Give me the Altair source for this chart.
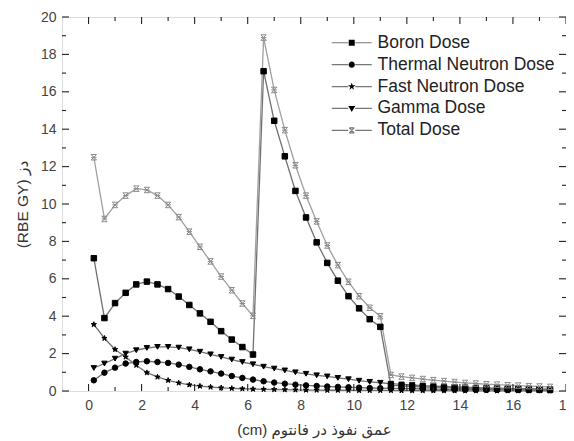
import altair as alt
import pandas as pd

depth = [0.2, 0.6, 1.0, 1.4, 1.8, 2.2, 2.6, 3.0, 3.4, 3.8, 4.2, 4.6, 5.0, 5.4, 5.8, 6.2,
         6.6, 7.0, 7.4, 7.8, 8.2, 8.6, 9.0, 9.4, 9.8, 10.2, 10.6, 11.0,
         11.4, 11.8, 12.2, 12.6, 13.0, 13.4, 13.8, 14.2, 14.6, 15.0, 15.4, 15.8, 16.2, 16.6, 17.0, 17.4]

boron = [7.1, 3.9, 4.7, 5.25, 5.7, 5.85, 5.7, 5.45, 5.05, 4.6, 4.15, 3.7, 3.2, 2.75, 2.35, 1.95,
         17.1, 14.45, 12.55, 10.7, 9.28, 7.95, 6.85, 5.9, 5.07, 4.42, 3.84, 3.43,
         0.3, 0.27, 0.24, 0.22, 0.2, 0.18, 0.16, 0.14, 0.13, 0.12, 0.11, 0.1, 0.09, 0.08, 0.07, 0.06]

thermal = [0.57, 0.98, 1.25, 1.47, 1.55, 1.59, 1.55, 1.5, 1.41, 1.29, 1.16, 1.05, 0.93, 0.8, 0.7, 0.61,
           0.52, 0.45, 0.39, 0.34, 0.3, 0.27, 0.24, 0.22, 0.2, 0.18, 0.16, 0.15,
           0.14, 0.13, 0.12, 0.11, 0.1, 0.09, 0.09, 0.08, 0.08, 0.07, 0.07, 0.06, 0.06, 0.05, 0.05, 0.05]

fast = [3.56, 2.82, 2.22, 1.82, 1.38, 0.98, 0.75, 0.57, 0.43, 0.33, 0.26, 0.21, 0.17, 0.14, 0.12, 0.1,
        0.09, 0.08, 0.07, 0.06, 0.05, 0.05, 0.04, 0.04, 0.04, 0.03, 0.03, 0.03,
        0.03, 0.02, 0.02, 0.02, 0.02, 0.02, 0.01, 0.01, 0.01, 0.01, 0.01, 0.01, 0.01, 0.01, 0.01, 0.01]

gamma = [1.23, 1.47, 1.73, 2.0, 2.18, 2.3, 2.36, 2.36, 2.32, 2.23, 2.1, 1.96, 1.82, 1.68, 1.55, 1.43,
         1.3, 1.2, 1.1, 1.0, 0.92, 0.84, 0.78, 0.7, 0.63, 0.55, 0.49, 0.44,
         0.39, 0.35, 0.32, 0.29, 0.26, 0.24, 0.22, 0.2, 0.18, 0.16, 0.15, 0.14, 0.13, 0.12, 0.11, 0.1]

total = [12.5, 9.2, 9.95, 10.45, 10.82, 10.75, 10.45, 9.95, 9.3, 8.52, 7.71, 6.93, 6.12, 5.39, 4.68, 4.02,
         18.9, 16.1, 13.95, 12.07, 10.45, 9.07, 7.78, 6.73, 5.84, 5.07, 4.45, 4.0,
         0.86, 0.77, 0.7, 0.64, 0.58, 0.53, 0.48, 0.43, 0.4, 0.36, 0.34, 0.31, 0.29, 0.26, 0.24, 0.22]

series_names = ["Boron Dose", "Thermal Neutron Dose", "Fast Neutron Dose", "Gamma Dose", "Total Dose"]
series_values = [boron, thermal, fast, gamma, total]

x_major = [0, 2, 4, 6, 8, 10, 12, 14, 16, 18]
x_minor = [1, 3, 5, 7, 9, 11, 13, 15, 17]
y_major = [0, 2, 4, 6, 8, 10, 12, 14, 16, 18, 20]
y_minor = [1, 3, 5, 7, 9, 11, 13, 15, 17, 19]

rows = []
for name, vals in zip(series_names, series_values):
    for xv, yv in zip(depth, vals):
        rows.append({"x": xv, "y": yv, "series": name})
df = pd.DataFrame(rows)

W, H = 504, 374
FONT = "Liberation Sans, DejaVu Sans, sans-serif"

STAR = "M0,-1L0.2245,-0.309L0.951,-0.309L0.363,0.118L0.588,0.809L0,0.382L-0.588,0.809L-0.363,0.118L-0.951,-0.309L-0.2245,-0.309Z"
ASTER = "M-1,-1L1,1M-1,1L1,-1M-1,-1H1M-1,1H1M-1,0H1"
plot_shapes = ["square", "circle", STAR, "triangle-down", ASTER]

LINE = "M-4,0H-0.7M0.7,0H4"
leg_line_shapes = [LINE, LINE, LINE, LINE,
                   LINE + "M-0.5,-0.5L0.5,0.5M-0.5,0.5L0.5,-0.5M-0.5,-0.5H0.5M-0.5,0.5H0.5"]
leg_marker_shapes = [
    "M-0.6,-0.6H0.6V0.6H-0.6Z",
    "M-0.62,0A0.62,0.62,0,1,0,0.62,0A0.62,0.62,0,1,0,-0.62,0Z",
    "M0,-0.8L0.18,-0.25L0.76,-0.25L0.29,0.09L0.47,0.65L0,0.31L-0.47,0.65L-0.29,0.09L-0.76,-0.25L-0.18,-0.25Z",
    "M-0.7,-0.5H0.7L0,0.7Z",
    "M0,0Z",
]

xscale = alt.Scale(domain=[-1, 18], nice=False, zero=False)
yscale = alt.Scale(domain=[0, 20], nice=False)
xaxis = alt.Axis(values=x_major, title="(cm) عمق نفوذ در فانتوم", domain=False, ticks=False, grid=False,
                 labelFontSize=14, labelColor="#444", labelPadding=7, labelFont=FONT, labelFlush=False,
                 titleFont=FONT, titleFontSize=15, titleFontWeight="normal", titleColor="#333", titlePadding=10)
yaxis = alt.Axis(values=y_major, title="(RBE GY) دز", domain=False, ticks=False, grid=False,
                 labelFontSize=14, labelColor="#444", labelPadding=6, labelFont=FONT, labelFlush=False,
                 titleFont=FONT, titleFontSize=15.5, titleFontWeight="normal", titleColor="#333", titlePadding=10)
X = alt.X("x:Q", scale=xscale, axis=xaxis)
Y = alt.Y("y:Q", scale=yscale, axis=yaxis)

lines = alt.Chart(df).mark_line(strokeWidth=1.3).encode(
    x=X, y=Y, detail="series:N",
    color=alt.Color("series:N", scale=alt.Scale(domain=series_names,
                    range=["#707070", "#707070", "#707070", "#707070", "#a0a0a0"]), legend=None),
)

points = alt.Chart(df).mark_point(filled=True, opacity=1, strokeWidth=1, size=30).encode(
    x=X, y=Y,
    shape=alt.Shape("series:N", scale=alt.Scale(domain=series_names, range=plot_shapes), legend=None),
    fill=alt.Fill("series:N", scale=alt.Scale(domain=series_names,
                  range=["#000", "#000", "#000", "#000", "#888"]), legend=None),
    stroke=alt.Stroke("series:N", scale=alt.Scale(domain=series_names,
                      range=["#000", "#000", "#000", "#000", "#8a8a8a"]), legend=None),
)

LEG_X, LEG_Y = 281, 17
common_leg = dict(title=None, orient="none", legendX=LEG_X, legendY=LEG_Y, symbolSize=100,
                  labelFont=FONT, labelFontSize=17.5, labelOffset=17, rowPadding=2.9,
                  labelLimit=400, symbolOpacity=1)

legend_lines = alt.Chart(df).transform_filter("datum.x > 1000").mark_point(
    filled=False, stroke="#777", strokeWidth=1.2, opacity=1
).encode(
    x=X, y=Y,
    shape=alt.Shape("series:N", scale=alt.Scale(domain=series_names, range=leg_line_shapes),
                    legend=alt.Legend(symbolStrokeColor="#777", symbolStrokeWidth=1.2,
                                      labelColor="#222", **common_leg)),
)

legend_markers = alt.Chart(df).transform_filter("datum.x > 1000").mark_point(
    filled=True, fill="#000", opacity=1
).encode(
    x=X, y=Y,
    shape=alt.Shape("legend_marker:N", scale=alt.Scale(domain=series_names, range=leg_marker_shapes),
                    legend=alt.Legend(symbolFillColor="#000", symbolStrokeWidth=0,
                                      labelColor="#222", labelOpacity=0, **common_leg)),
)

def tick_layer(vals, axis_field, side, length):
    d = pd.DataFrame({axis_field: vals})
    c = alt.Chart(d).mark_rule(color="#222", strokeWidth=1.1)
    if side == "bottom":
        return c.encode(x=X, y=alt.value(H), y2=alt.value(H - length))
    if side == "top":
        return c.encode(x=X, y=alt.value(0), y2=alt.value(length))
    if side == "left":
        return c.encode(y=Y, x=alt.value(0), x2=alt.value(length))
    return c.encode(y=Y, x=alt.value(W), x2=alt.value(W - length))

ticks = []
for side in ["bottom", "top"]:
    ticks.append(tick_layer(x_major, "x", side, 7))
    ticks.append(tick_layer(x_minor, "x", side, 4))
for side in ["left", "right"]:
    ticks.append(tick_layer(y_major, "y", side, 7))
    ticks.append(tick_layer(y_minor, "y", side, 4))

chart = alt.layer(lines, points, legend_lines, legend_markers, *ticks).resolve_scale(
    shape="independent"
).properties(
    width=W, height=H,
    autosize=alt.AutoSizeParams(type="none"),
    padding={"left": 54, "top": 9, "right": 0, "bottom": 50},
).configure_view(stroke="#222", strokeWidth=1.3).configure(font=FONT, background="white")

chart.save("out.html", embed_options={"renderer": "svg", "actions": False})
